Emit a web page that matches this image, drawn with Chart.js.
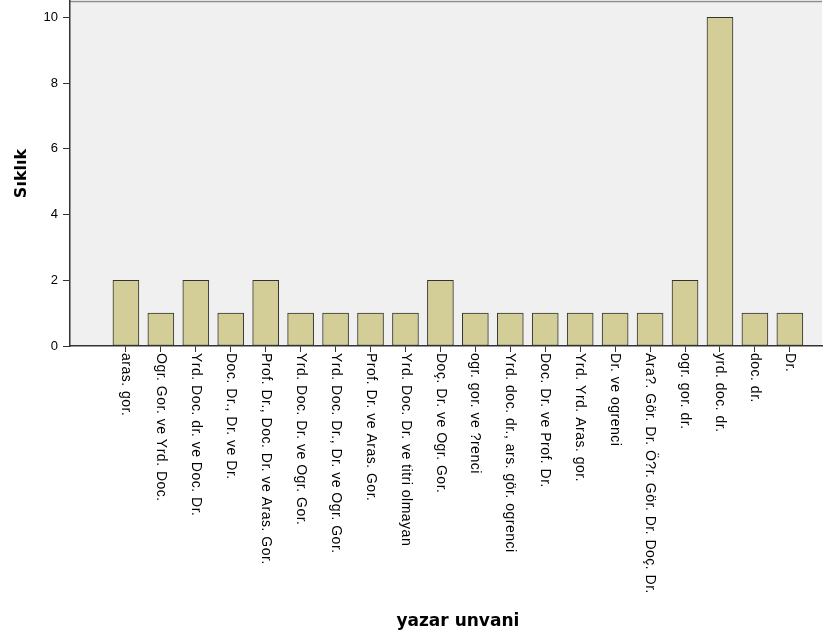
<!DOCTYPE html>
<html>
<head>
<meta charset="utf-8">
<script src="https://cdn.jsdelivr.net/npm/chart.js@4.4.0/dist/chart.umd.min.js"></script>
<style>
  html, body { margin: 0; padding: 0; background: #fff; }
  #wrap { width: 837px; height: 638px; }
</style>
</head>
<body>
<div id="wrap"><canvas id="chart"></canvas></div>
<script>
var categories = [
  "aras. gor.",
  "Ogr. Gor. ve Yrd. Doc.",
  "Yrd. Doc. dr. ve Doc. Dr.",
  "Doc. Dr., Dr. ve Dr.",
  "Prof. Dr., Doc. Dr. ve Aras. Gor.",
  "Yrd. Doc. Dr. ve Ogr. Gor.",
  "Yrd. Doc. Dr., Dr. ve Ogr. Gor.",
  "Prof. Dr. ve Aras. Gor.",
  "Yrd. Doc. Dr. ve titri olmayan",
  "Doç. Dr. ve Ogr. Gor.",
  "ogr. gor. ve ?renci",
  "Yrd. doc. dr., ars. gör. ogrenci",
  "Doc. Dr. ve Prof. Dr.",
  "Yrd. Yrd. Aras. gor.",
  "Dr. ve ogrenci",
  "Ara?. Gör. Dr. Ö?r. Gör. Dr. Doç. Dr.",
  "ogr. gor. dr.",
  "yrd. doc. dr.",
  "doc. dr.",
  "Dr."
];
var counts = [2, 1, 2, 1, 2, 1, 1, 1, 1, 2, 1, 1, 1, 1, 1, 1, 2, 10, 1, 1];
var yTicks = [0, 2, 4, 6, 8, 10];
var xTitle = 'yazar unvani';

var barColor = '#d3ce98';
var plotBg = '#f0f0f0';

// plot background + frame, rotated category labels, x title over the bars
var spssLook = {
  id: 'spssLook',
  beforeDraw: function (chart) {
    var a = chart.chartArea, ctx = chart.ctx;
    ctx.save();
    ctx.fillStyle = plotBg;
    ctx.fillRect(a.left, a.top, a.right - a.left, a.bottom - a.top);
    ctx.strokeStyle = '#8c8c8c';
    ctx.lineWidth = 1.5;
    ctx.beginPath();
    ctx.moveTo(a.left, a.top + 0.5);
    ctx.lineTo(a.right, a.top + 0.5);
    ctx.stroke();
    ctx.restore();
  },
  afterDraw: function (chart) {
    var xs = chart.scales.x, ctx = chart.ctx;
    ctx.save();
    ctx.font = '14px "Liberation Sans", Arial, sans-serif';
    if ('letterSpacing' in ctx) ctx.letterSpacing = '0.5px';
    ctx.fillStyle = '#000';
    ctx.textAlign = 'left';
    ctx.textBaseline = 'middle';
    categories.forEach(function (lab, i) {
      var px = xs.getPixelForValue(i);
      ctx.save();
      ctx.translate(px, xs.top + 7);
      ctx.rotate(Math.PI / 2);
      ctx.fillText(lab, 0, 0);
      ctx.restore();
    });
    if ('letterSpacing' in ctx) ctx.letterSpacing = '0px';
    var mid = (xs.getPixelForValue(0) + xs.getPixelForValue(categories.length - 1)) / 2;
    ctx.font = 'bold 17px "DejaVu Sans", Verdana, sans-serif';
    ctx.textAlign = 'center';
    ctx.fillText(xTitle, mid, xs.bottom - 16);
    ctx.restore();
  }
};

new Chart(document.getElementById('chart').getContext('2d'), {
  type: 'bar',
  data: {
    datasets: [{
      data: counts.map(function (v, i) { return { x: i, y: v }; }),
      backgroundColor: barColor,
      borderColor: '#333',
      borderWidth: 1,
      borderSkipped: false,
      barThickness: 26
    }]
  },
  options: {
    responsive: true,
    maintainAspectRatio: false,
    animation: false,
    layout: { padding: { top: 1, right: 15, left: 0, bottom: 0 } },
    plugins: {
      legend: { display: false },
      tooltip: { enabled: false }
    },
    scales: {
      x: {
        type: 'linear',
        offset: false,
        min: -1.6,
        max: 19.92,
        afterBuildTicks: function (s) {
          s.ticks = categories.map(function (c, i) { return { value: i }; });
        },
        afterFit: function (s) {
          s.height = 292;
          s.paddingLeft = 0;
          s.paddingRight = 0;
        },
        grid: { offset: false, drawOnChartArea: false, drawTicks: true, tickLength: 6, color: '#333', lineWidth: 1 },
        border: { display: true, color: '#333', width: 1.5 },
        ticks: { display: false },
        title: { display: false }
      },
      y: {
        min: 0,
        max: 10.5,
        afterBuildTicks: function (s) {
          s.ticks = yTicks.map(function (v) { return { value: v }; });
        },
        afterFit: function (s) {
          s.width = 70;
          s.paddingTop = 0;
          s.paddingBottom = 0;
        },
        grid: { drawOnChartArea: false, drawTicks: true, tickLength: 7, color: '#333', lineWidth: 1 },
        border: { display: true, color: '#333', width: 1.5 },
        ticks: {
          color: '#000',
          padding: 5,
          font: { family: '"Liberation Sans", Arial, sans-serif', size: 13 }
        },
        title: {
          display: true,
          text: 'Sıklık',
          color: '#000',
          font: { family: '"DejaVu Sans", Verdana, sans-serif', size: 16, weight: 'bold' },
          padding: { top: 12, bottom: 0 }
        }
      }
    }
  },
  plugins: [spssLook]
});
</script>
</body>
</html>
